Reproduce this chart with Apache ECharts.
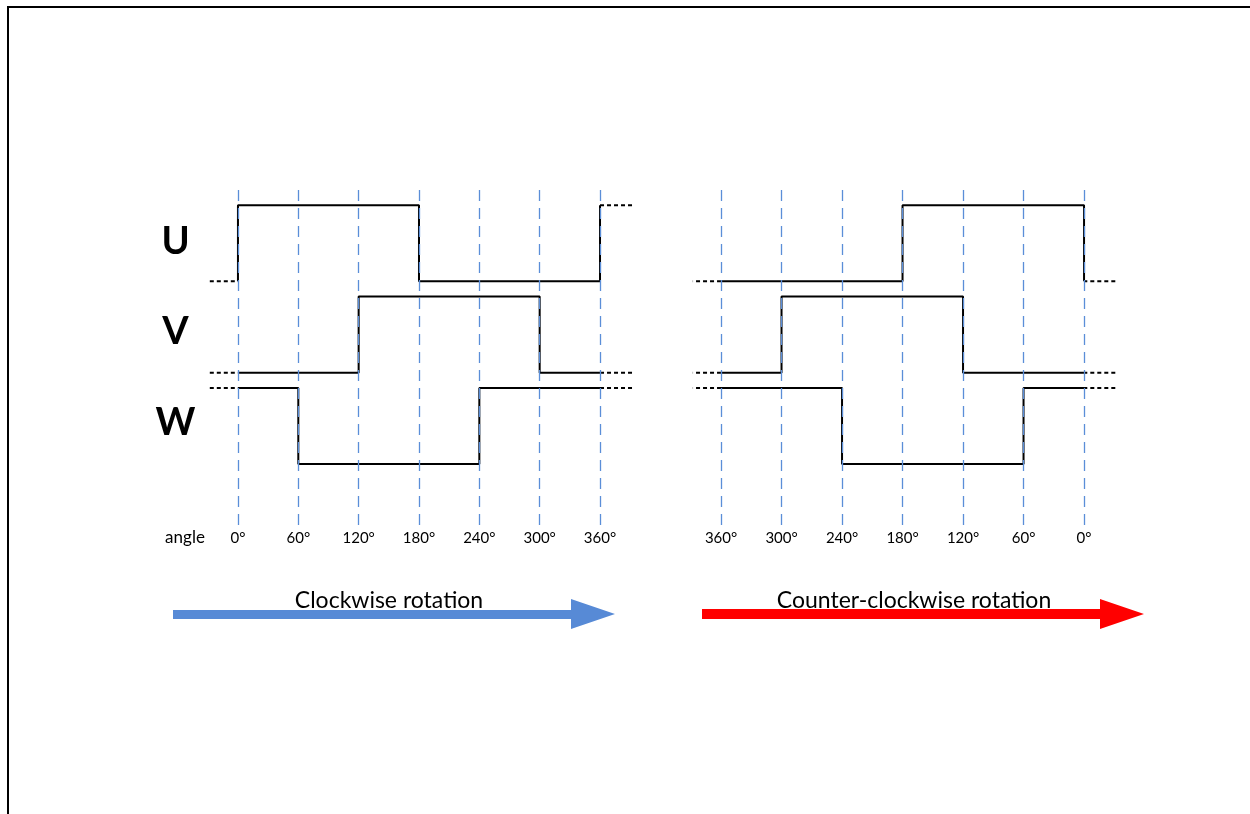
<!DOCTYPE html>
<html>
<head>
<meta charset="utf-8">
<script src="https://cdn.jsdelivr.net/npm/echarts@6/dist/echarts.min.js"></script>
<style>
html,body{margin:0;padding:0;background:#fff;}
#chart{width:1250px;height:814px;}
</style>
</head>
<body>
<div id="chart"></div>
<script>
// ---- data ----
const angleTicks = [0, 60, 120, 180, 240, 300, 360];
const channels = ['U', 'V', 'W'];
// level of each 60° segment (0 = low, 1 = high)
const levelU = [1, 1, 1, 0, 0, 0];
const levelV = [0, 0, 1, 1, 1, 0];
const levelW = [1, 0, 0, 0, 1, 1];
// channel baselines on the shared y scale
const channelBase = [2.4, 1.2, 0];
// dashed continuation levels beyond the drawn period
const leftBefore0 = [0, 0, 1];
const leftAfter360 = [1, 0, 1];
const rightBefore0 = [0, 0, 1];
const rightAfter360 = [0, 0, 1];
// extent of dashed continuation (degrees)
const leftExt = [-28, 392];
const rightExt = [-31, 388];
const panelTitles = ['Clockwise rotation', 'Counter-clockwise rotation'];

const levels = [levelU, levelV, levelW];
const FONT = 'Lato, "Open Sans", sans-serif';

function solidPoints(ch, before, after) {
  const base = channelBase[ch], L = levels[ch];
  const pts = [[0, base + before[ch]]];
  for (let i = 0; i < L.length; i++) {
    pts.push([angleTicks[i], base + L[i]]);
    pts.push([angleTicks[i + 1], base + L[i]]);
  }
  pts.push([360, base + after[ch]]);
  return pts;
}

const series = [];
function addPanel(gi, before, after, ext) {
  for (let ch = 0; ch < 3; ch++) {
    const base = channelBase[ch];
    series.push({
      type: 'line', xAxisIndex: gi, yAxisIndex: gi, data: solidPoints(ch, before, after),
      symbol: 'none', silent: true, z: 2,
      lineStyle: {color: '#000', width: 2}
    });
    series.push({
      type: 'line', xAxisIndex: gi, yAxisIndex: gi,
      data: [[ext[0], base + before[ch]], [0, base + before[ch]]],
      symbol: 'none', silent: true, z: 2,
      lineStyle: {color: '#000', width: 2, type: [4, 3]}
    });
    series.push({
      type: 'line', xAxisIndex: gi, yAxisIndex: gi,
      data: [[360, base + after[ch]], [ext[1], base + after[ch]]],
      symbol: 'none', silent: true, z: 2,
      lineStyle: {color: '#000', width: 2, type: [4, 3]}
    });
  }
  // angle gridlines
  series.push({
    type: 'line', xAxisIndex: gi, yAxisIndex: gi, data: [], z: 5, silent: true,
    markLine: {
      silent: true, symbol: 'none', animation: false,
      label: {show: false},
      lineStyle: {color: '#5b8ed8', width: 1.3, type: [11, 7]},
      data: angleTicks.map(v => ({xAxis: v}))
    }
  });
}
addPanel(0, leftBefore0, leftAfter360, leftExt);
addPanel(1, rightBefore0, rightAfter360, rightExt);

function xAxisFor(gi, inverse, ext) {
  return {
    type: 'value', gridIndex: gi, min: ext[0], max: ext[1], inverse: inverse,
    axisLine: {show: false}, axisTick: {show: false, customValues: angleTicks},
    axisLabel: {customValues: angleTicks, formatter: v => v + '°', color: '#000', fontFamily: FONT, fontSize: 15, margin: 6},
    splitLine: {show: false}
  };
}
function yAxisFor(gi) {
  return {type: 'value', gridIndex: gi, min: -0.8, max: 3.6, show: false, splitLine: {show: false}};
}

const graphic = [
  {type: 'line', shape: {x1: 7, y1: 7, x2: 1250, y2: 7}, style: {stroke: '#000', lineWidth: 2}},
  {type: 'line', shape: {x1: 8, y1: 7, x2: 8, y2: 814}, style: {stroke: '#000', lineWidth: 2}},
  {type: 'text', x: 185, y: 538, style: {text: 'angle', font: '17px ' + FONT, fill: '#000', align: 'center', verticalAlign: 'middle'}},
  // arrows
  {type: 'polygon', shape: {points: [[173, 610], [571, 610], [571, 599], [615, 614], [571, 629], [571, 619], [173, 619]]}, style: {fill: '#578ad6'}},
  {type: 'polygon', shape: {points: [[702, 609], [1100, 609], [1100, 599], [1144, 614], [1100, 629], [1100, 619], [702, 619]]}, style: {fill: '#ff0000'}},
  {type: 'text', x: 389, y: 601, z: 10, style: {text: panelTitles[0], font: '23px ' + FONT, fill: '#000', align: 'center', verticalAlign: 'middle'}},
  {type: 'text', x: 914, y: 601, z: 10, style: {text: panelTitles[1], font: '23px ' + FONT, fill: '#000', align: 'center', verticalAlign: 'middle'}}
];
const labelY = [242, 332, 423];
channels.forEach((c, i) => {
  graphic.push({type: 'text', x: 175.5, y: labelY[i], style: {text: c, font: 'bold 38px ' + FONT, fill: '#000', align: 'center', verticalAlign: 'middle'}});
});

const chart = echarts.init(document.getElementById('chart'));
chart.setOption({
  animation: false,
  backgroundColor: '#fff',
  grid: [
    {left: 209.8, width: 422.4, top: 190, height: 335},
    {left: 692.8, width: 422.5, top: 190, height: 335}
  ],
  xAxis: [xAxisFor(0, false, leftExt), xAxisFor(1, true, rightExt)],
  yAxis: [yAxisFor(0), yAxisFor(1)],
  series: series,
  graphic: graphic
});
</script>
</body>
</html>
